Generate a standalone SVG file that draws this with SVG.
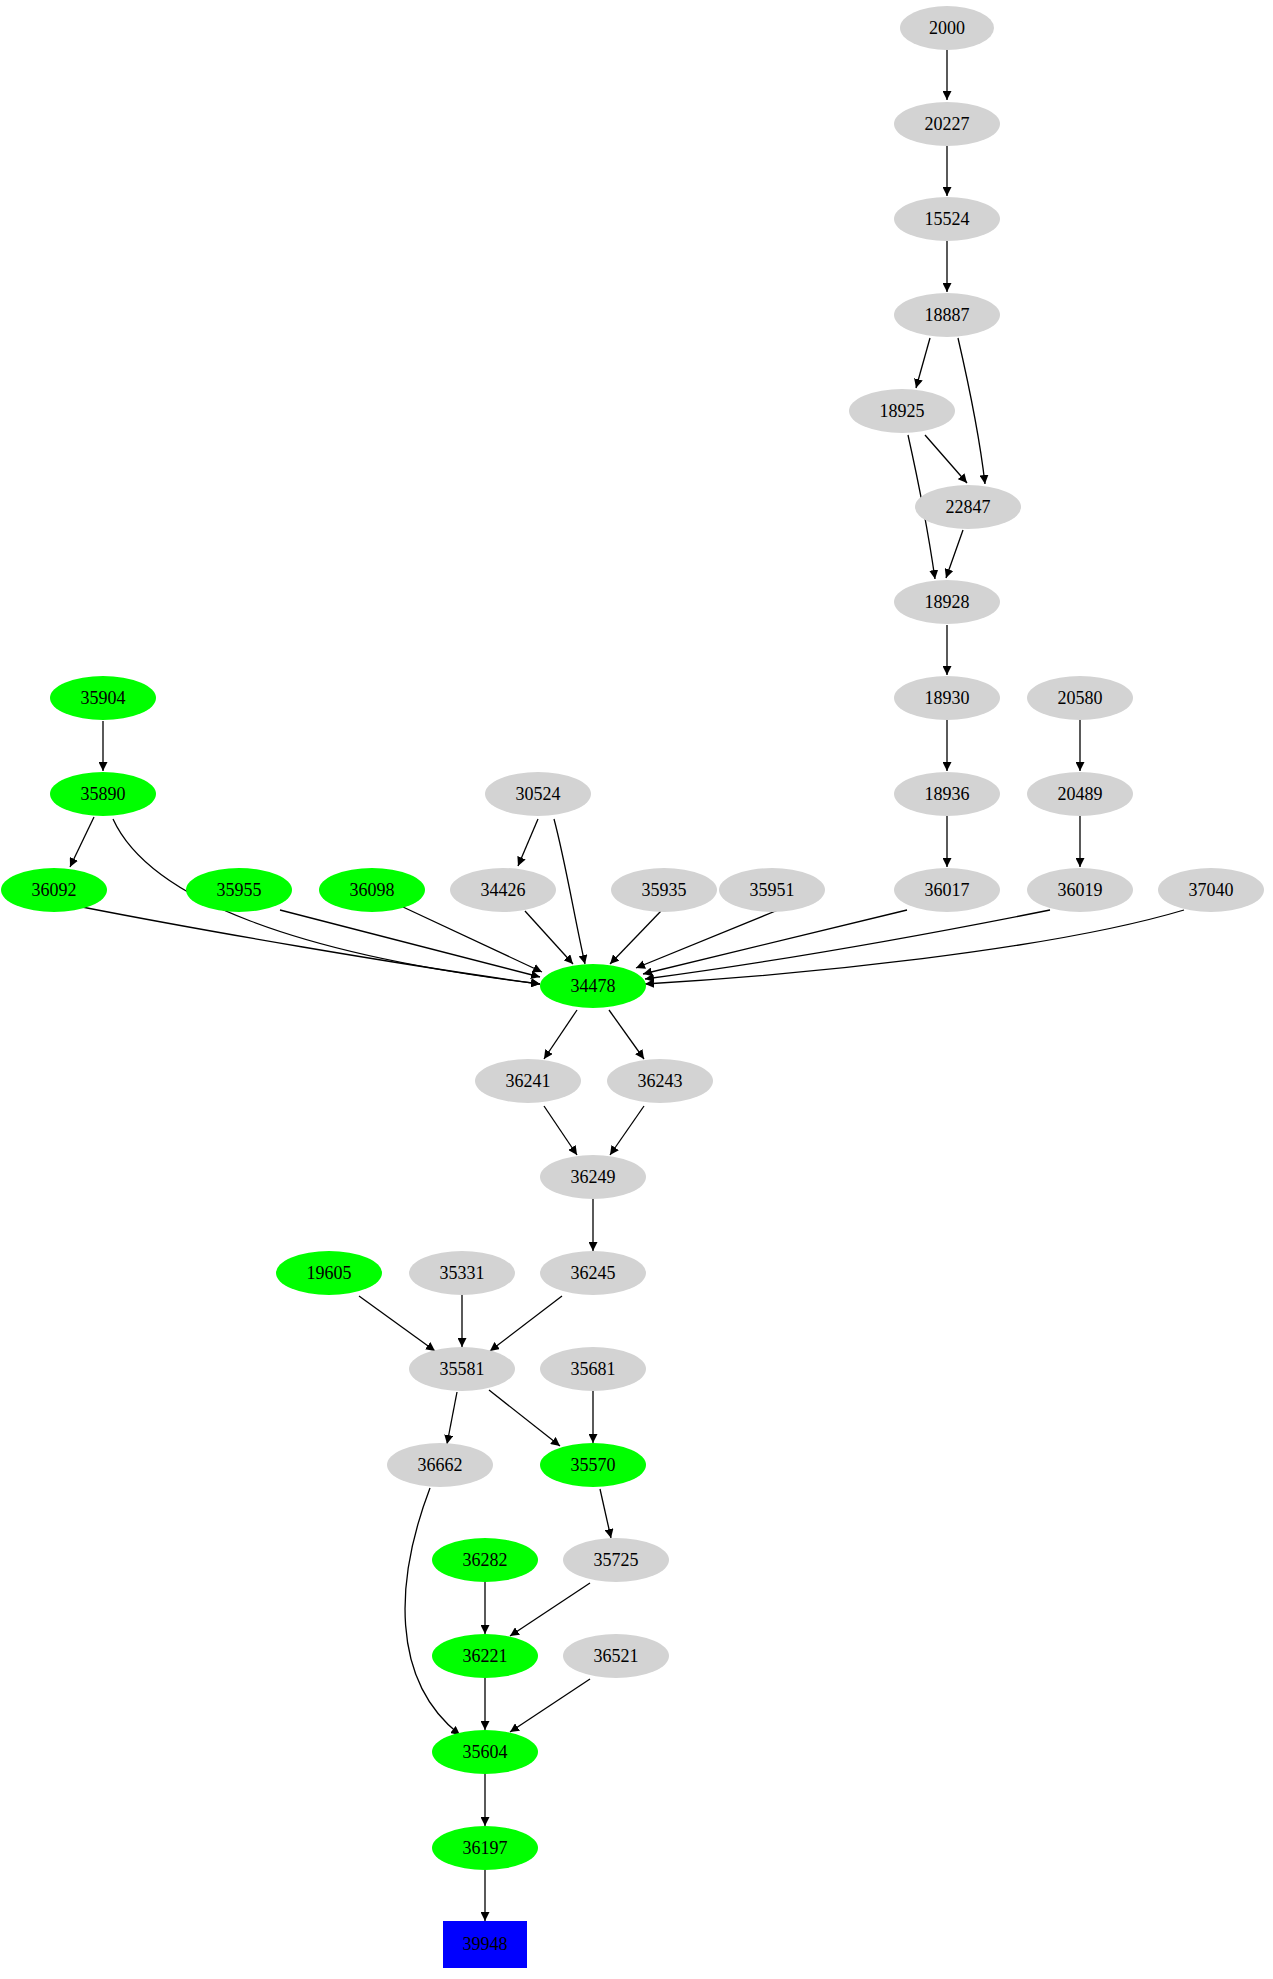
<svg xmlns="http://www.w3.org/2000/svg" width="1273" height="1979" viewBox="0 0 1273 1979">
<style>
.g{fill:#d3d3d3}.v{fill:#00ff00}
text{font-family:"Liberation Serif",serif;font-size:18px;text-anchor:middle;dominant-baseline:central;fill:#000}
#edges path{fill:none;stroke:#000;stroke-width:1.3;marker-end:url(#a)}
</style>
<defs><marker id="a" viewBox="0 0 10 10" refX="10" refY="5" markerWidth="9" markerHeight="9" markerUnits="userSpaceOnUse" orient="auto"><path d="M0,0L10,5L0,10z" fill="#000"/></marker></defs>
<rect width="1273" height="1979" fill="#fff"/>
<g id="edges">
<path d="M947,50V100"/><path d="M947,146V196"/><path d="M947,241V292"/>
<path d="M930,338L916,388"/>
<path d="M958,338C970,390 980,440 985,484"/>
<path d="M925,435L967,483"/>
<path d="M908,435C918,480 928,530 935,579"/>
<path d="M963,530L946,578"/>
<path d="M947,625V675"/><path d="M947,720V771"/><path d="M947,816V867"/>
<path d="M1080,720V771"/><path d="M1080,816V867"/>
<path d="M103,721V771"/>
<path d="M94,817L70,867"/>
<path d="M82,907C200,930 400,965 540,984"/>
<path d="M113,819C150,900 300,955 540,984"/>
<path d="M280,910L540,977"/>
<path d="M403,907L542,972"/>
<path d="M525,911L573,964"/>
<path d="M538,819L518,866"/>
<path d="M554,819C565,860 575,920 585,964"/>
<path d="M661,911L610,964"/>
<path d="M778,910L636,968"/>
<path d="M907,910L643,974"/>
<path d="M1050,910C900,940 750,965 645,979"/>
<path d="M1184,910C1050,950 800,975 645,984"/>
<path d="M577,1010L544,1059"/>
<path d="M609,1010L644,1059"/>
<path d="M544,1106L577,1155"/>
<path d="M644,1106L610,1155"/>
<path d="M593,1199V1251"/>
<path d="M359,1296L435,1351"/>
<path d="M462,1295V1347"/>
<path d="M562,1296L490,1351"/>
<path d="M457,1392L447,1444"/>
<path d="M489,1390L560,1446"/>
<path d="M593,1391V1443"/>
<path d="M600,1489L611,1538"/>
<path d="M430,1488C395,1580 390,1680 460,1735"/>
<path d="M485,1582V1634"/>
<path d="M590,1583L510,1636"/>
<path d="M485,1678V1730"/>
<path d="M590,1679L510,1732"/>
<path d="M485,1774V1826"/>
<path d="M485,1870V1921"/>
</g>
<g id="n2000"><ellipse class="g" cx="947" cy="28" rx="47" ry="22"/><text x="947" y="28">2000</text></g>
<g id="n20227"><ellipse class="g" cx="947" cy="124" rx="53" ry="22"/><text x="947" y="124">20227</text></g>
<g id="n15524"><ellipse class="g" cx="947" cy="219" rx="53" ry="22"/><text x="947" y="219">15524</text></g>
<g id="n18887"><ellipse class="g" cx="947" cy="315" rx="53" ry="22"/><text x="947" y="315">18887</text></g>
<g id="n18925"><ellipse class="g" cx="902" cy="411" rx="53" ry="22"/><text x="902" y="411">18925</text></g>
<g id="n22847"><ellipse class="g" cx="968" cy="507" rx="53" ry="22"/><text x="968" y="507">22847</text></g>
<g id="n18928"><ellipse class="g" cx="947" cy="602" rx="53" ry="22"/><text x="947" y="602">18928</text></g>
<g id="n18930"><ellipse class="g" cx="947" cy="698" rx="53" ry="22"/><text x="947" y="698">18930</text></g>
<g id="n20580"><ellipse class="g" cx="1080" cy="698" rx="53" ry="22"/><text x="1080" y="698">20580</text></g>
<g id="n35904"><ellipse class="v" cx="103" cy="698" rx="53" ry="22"/><text x="103" y="698">35904</text></g>
<g id="n35890"><ellipse class="v" cx="103" cy="794" rx="53" ry="22"/><text x="103" y="794">35890</text></g>
<g id="n30524"><ellipse class="g" cx="538" cy="794" rx="53" ry="22"/><text x="538" y="794">30524</text></g>
<g id="n18936"><ellipse class="g" cx="947" cy="794" rx="53" ry="22"/><text x="947" y="794">18936</text></g>
<g id="n20489"><ellipse class="g" cx="1080" cy="794" rx="53" ry="22"/><text x="1080" y="794">20489</text></g>
<g id="n36092"><ellipse class="v" cx="54" cy="890" rx="53" ry="22"/><text x="54" y="890">36092</text></g>
<g id="n35955"><ellipse class="v" cx="239" cy="890" rx="53" ry="22"/><text x="239" y="890">35955</text></g>
<g id="n36098"><ellipse class="v" cx="372" cy="890" rx="53" ry="22"/><text x="372" y="890">36098</text></g>
<g id="n34426"><ellipse class="g" cx="503" cy="890" rx="53" ry="22"/><text x="503" y="890">34426</text></g>
<g id="n35935"><ellipse class="g" cx="664" cy="890" rx="53" ry="22"/><text x="664" y="890">35935</text></g>
<g id="n35951"><ellipse class="g" cx="772" cy="890" rx="53" ry="22"/><text x="772" y="890">35951</text></g>
<g id="n36017"><ellipse class="g" cx="947" cy="890" rx="53" ry="22"/><text x="947" y="890">36017</text></g>
<g id="n36019"><ellipse class="g" cx="1080" cy="890" rx="53" ry="22"/><text x="1080" y="890">36019</text></g>
<g id="n37040"><ellipse class="g" cx="1211" cy="890" rx="53" ry="22"/><text x="1211" y="890">37040</text></g>
<g id="n34478"><ellipse class="v" cx="593" cy="986" rx="53" ry="22"/><text x="593" y="986">34478</text></g>
<g id="n36241"><ellipse class="g" cx="528" cy="1081" rx="53" ry="22"/><text x="528" y="1081">36241</text></g>
<g id="n36243"><ellipse class="g" cx="660" cy="1081" rx="53" ry="22"/><text x="660" y="1081">36243</text></g>
<g id="n36249"><ellipse class="g" cx="593" cy="1177" rx="53" ry="22"/><text x="593" y="1177">36249</text></g>
<g id="n19605"><ellipse class="v" cx="329" cy="1273" rx="53" ry="22"/><text x="329" y="1273">19605</text></g>
<g id="n35331"><ellipse class="g" cx="462" cy="1273" rx="53" ry="22"/><text x="462" y="1273">35331</text></g>
<g id="n36245"><ellipse class="g" cx="593" cy="1273" rx="53" ry="22"/><text x="593" y="1273">36245</text></g>
<g id="n35581"><ellipse class="g" cx="462" cy="1369" rx="53" ry="22"/><text x="462" y="1369">35581</text></g>
<g id="n35681"><ellipse class="g" cx="593" cy="1369" rx="53" ry="22"/><text x="593" y="1369">35681</text></g>
<g id="n36662"><ellipse class="g" cx="440" cy="1465" rx="53" ry="22"/><text x="440" y="1465">36662</text></g>
<g id="n35570"><ellipse class="v" cx="593" cy="1465" rx="53" ry="22"/><text x="593" y="1465">35570</text></g>
<g id="n36282"><ellipse class="v" cx="485" cy="1560" rx="53" ry="22"/><text x="485" y="1560">36282</text></g>
<g id="n35725"><ellipse class="g" cx="616" cy="1560" rx="53" ry="22"/><text x="616" y="1560">35725</text></g>
<g id="n36221"><ellipse class="v" cx="485" cy="1656" rx="53" ry="22"/><text x="485" y="1656">36221</text></g>
<g id="n36521"><ellipse class="g" cx="616" cy="1656" rx="53" ry="22"/><text x="616" y="1656">36521</text></g>
<g id="n35604"><ellipse class="v" cx="485" cy="1752" rx="53" ry="22"/><text x="485" y="1752">35604</text></g>
<g id="n36197"><ellipse class="v" cx="485" cy="1848" rx="53" ry="22"/><text x="485" y="1848">36197</text></g>
<g id="n39948"><rect x="443" y="1921" width="84" height="47" fill="#0000ff"/><text x="485" y="1944">39948</text></g>
</svg>
